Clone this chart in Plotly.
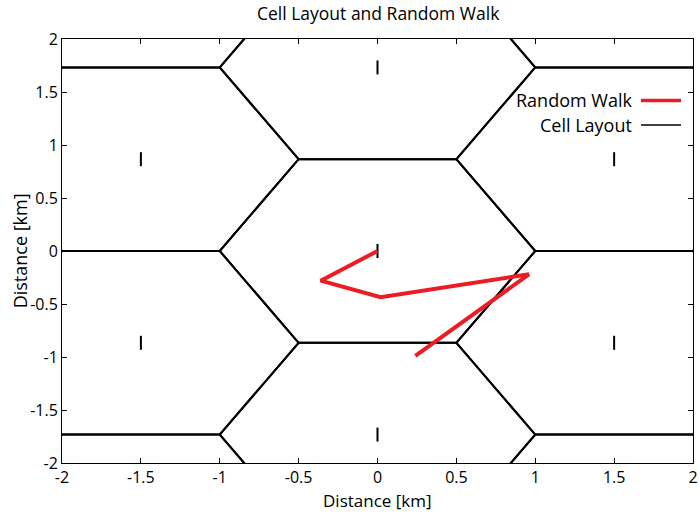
import math
import plotly.graph_objects as go

# Hexagonal cell centres (km) and cell radius
cell_x = [0.0, 0.0, 0.0, 1.5, 1.5, -1.5, -1.5, 1.5, 1.5, -1.5, -1.5, 3.0, 3.0, 3.0, -3.0, -3.0, -3.0, 0.0, 0.0]
cell_y = [0.0, 1.732, -1.732, 0.866, -0.866, 0.866, -0.866, 2.598, -2.598, 2.598, -2.598, 0.0, 1.732, -1.732, 0.0, 1.732, -1.732, 3.464, -3.464]
cell_radius = 1.0

# Base stations marked inside the displayed area
bs_x = [0.0, 0.0, 0.0, 1.5, 1.5, -1.5, -1.5]
bs_y = [0.0, 1.732, -1.732, 0.866, -0.866, 0.866, -0.866]

# Random walk of the mobile user (km)
walk_x = [0.0, -0.36, 0.02, 0.96, 0.24]
walk_y = [0.0, -0.28, -0.435, -0.22, -0.99]

x_ticks = [-2, -1.5, -1, -0.5, 0, 0.5, 1, 1.5, 2]
y_ticks = [-2, -1.5, -1, -0.5, 0, 0.5, 1, 1.5, 2]

FONT = "Open Sans"
RED = "#ec1c24"

# Build hexagon outlines (flat-top), separated by None
hx, hy = [], []
for cx, cy in zip(cell_x, cell_y):
    for k in range(7):
        a = math.radians(60 * (k % 6))
        hx.append(cx + cell_radius * math.cos(a))
        hy.append(cy + cell_radius * math.sin(a))
    hx.append(None)
    hy.append(None)

fig = go.Figure()
fig.add_trace(go.Scatter(x=hx, y=hy, mode="lines",
                         line=dict(color="black", width=2), showlegend=False,
                         hoverinfo="skip"))
fig.add_trace(go.Scatter(x=bs_x, y=bs_y, mode="markers",
                         marker=dict(symbol="line-ns", size=10,
                                     line=dict(color="black", width=2)),
                         showlegend=False))
fig.add_trace(go.Scatter(x=walk_x, y=walk_y, mode="lines",
                         line=dict(color=RED, width=4), showlegend=False))

axis_common = dict(showline=True, mirror="ticks", linecolor="black", linewidth=1,
                   ticks="inside", ticklen=5, tickcolor="black", tickwidth=1,
                   showgrid=False, zeroline=False, automargin=False,
                   tickfont=dict(family=FONT, size=16, color="black"))

fig.update_xaxes(range=[-2, 2], tickvals=x_ticks, ticktext=[f"{v:g}" for v in x_ticks],
                 **axis_common)
fig.update_yaxes(range=[-2, 2], tickvals=y_ticks, ticktext=[f"{v:g}" for v in y_ticks],
                 **axis_common)

# Axis titles
fig.add_annotation(x=0.5, y=-0.0895, xref="paper", yref="paper", text="Distance [km]",
                   showarrow=False, xanchor="center", yanchor="middle",
                   font=dict(family=FONT, size=17, color="black"))
fig.add_annotation(x=-0.066, y=0.5, xref="paper", yref="paper", text="Distance [km]",
                   showarrow=False, xanchor="center", yanchor="middle", textangle=-90,
                   font=dict(family=FONT, size=18, color="black"))

# Legend: text to the left of the line sample
legend_items = [("Random Walk", RED, 3.5, 0.855), ("Cell Layout", "black", 1.5, 0.797)]
for label, color, w, yp in legend_items:
    fig.add_annotation(x=0.9065, y=yp, xref="paper", yref="paper", text=label,
                       showarrow=False, xanchor="right", yanchor="middle",
                       font=dict(family=FONT, size=18, color="black"))
    fig.add_shape(type="line", xref="paper", yref="paper",
                  x0=0.9176, x1=0.981, y0=yp, y1=yp,
                  line=dict(color=color, width=w))

fig.update_layout(
    width=699, height=512,
    margin=dict(l=62, r=6, t=39, b=49, autoexpand=False),
    paper_bgcolor="white", plot_bgcolor="white",
    title=dict(text="Cell Layout and Random Walk", x=0.541, xanchor="center",
               y=0.973, yanchor="middle",
               font=dict(family=FONT, size=17.5, color="black")),
    showlegend=False,
)

fig.write_html("out.html")
